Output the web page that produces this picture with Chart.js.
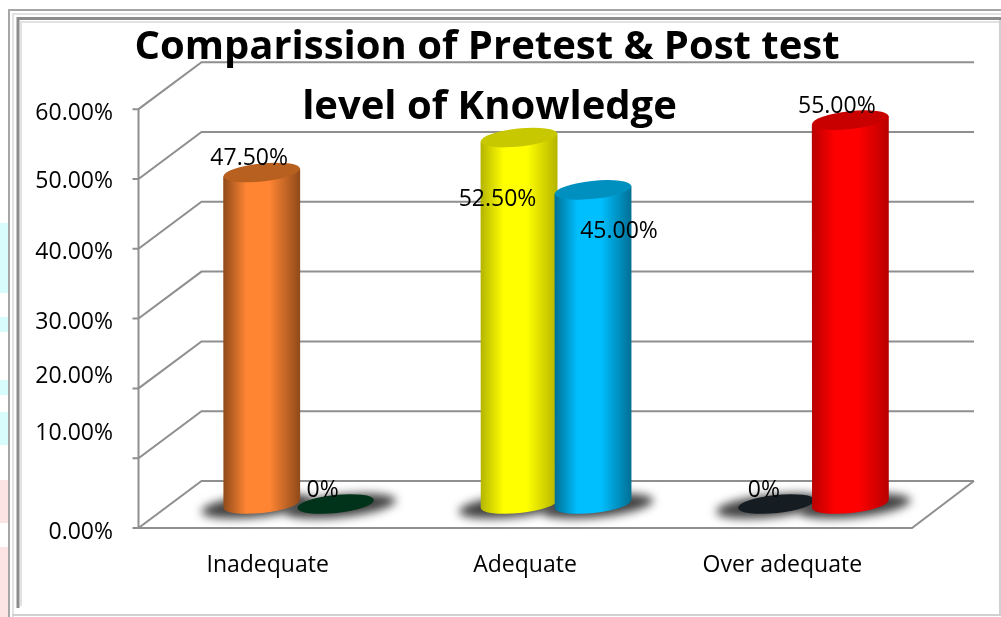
<!DOCTYPE html>
<html>
<head>
<meta charset="utf-8">
<title>Comparission of Pretest & Post test</title>
<script src="https://cdn.jsdelivr.net/npm/chart.js@4"></script>
<style>
html, body { margin: 0; padding: 0; background: #fff; overflow: hidden; }
canvas { display: block; }
</style>
</head>
<body>
<canvas id="chart" width="1001" height="617"></canvas>
<script>
const titleLines = ["Comparission of Pretest & Post test", "level of Knowledge"];
const categories = ["Inadequate", "Adequate", "Over adequate"];
const pretest = [47.5, 52.5, 0];
const posttest = [0, 45, 55];
const pretestLabels = ["47.50%", "52.50%", "0%"];
const posttestLabels = ["0%", "45.00%", "55.00%"];
const yTicks = [0, 10, 20, 30, 40, 50, 60];
const yTickLabels = ["0.00%", "10.00%", "20.00%", "30.00%", "40.00%", "50.00%", "60.00%"];

const pretestColors = ["#ff8533", "#ffff00", "#151d22"];
const posttestColors = ["#00331a", "#00bfff", "#ff0000"];
const pretestTops = ["#b8601f", "#c8c800", "#151d22"];
const posttestTops = ["#00331a", "#0090bf", "#c80000"];
const pretestEdges = ["#8f4a1a", "#b4b400", "#151d22"];
const posttestEdges = ["#00331a", "#006f94", "#b80000"];

// nudges for the labels, the picture has them placed by hand
const yLabelNudge = [4, -25, -12, 3.5, 4, 2.5, 4];
const pretestNudge = [[-12.5, -14.5], [-21.5, 61.5], [-12.5, -14]];
const posttestNudge = [[-13, -14], [26, 42], [-13.5, -14]];

const font = "'Open Sans'";
const gridColor = "#8f8f8f";
const tilt = -6 * Math.PI / 180;
const topRy = 9;

function drawFrame(ctx) {
    const bands = [
        ["#d8fbfb", 223, 70], ["#d8fbfb", 317, 15], ["#d8fbfb", 380, 15], ["#d8fbfb", 412, 33],
        ["#fde4e4", 480, 43], ["#fde4e4", 547, 70]
    ];
    for (let b of bands) {
        ctx.fillStyle = b[0];
        ctx.fillRect(0, b[1], 8, b[2]);
    }
    ctx.lineWidth = 2;
    ctx.strokeStyle = "#e2e2e2";
    ctx.beginPath();
    ctx.moveTo(13, 617);
    ctx.lineTo(13, 14);
    ctx.lineTo(1001, 14);
    ctx.moveTo(21, 606);
    ctx.lineTo(21, 22);
    ctx.lineTo(1001, 22);
    ctx.stroke();
    ctx.strokeStyle = "#a6a6a6";
    ctx.beginPath();
    ctx.moveTo(9, 617);
    ctx.lineTo(9, 10);
    ctx.lineTo(1001, 10);
    ctx.stroke();
    ctx.strokeStyle = "#d0d0d0";
    ctx.beginPath();
    ctx.moveTo(1000, 18);
    ctx.lineTo(1000, 615);
    ctx.lineTo(12, 615);
    ctx.stroke();
    ctx.strokeStyle = "#8c8c8c";
    ctx.lineWidth = 3;
    ctx.beginPath();
    ctx.moveTo(18, 608);
    ctx.lineTo(18, 18.5);
    ctx.lineTo(1001, 18.5);
    ctx.stroke();
}

function drawCylinder(ctx, el, color, edge, top) {
    const rx = el.width / 2;
    const left = el.x - rx;
    const right = el.x + rx;
    if (el.base - el.y > 1) {
        const dy = rx * Math.tan(-tilt);
        const grad = ctx.createLinearGradient(left, 0, right, 0);
        grad.addColorStop(0, edge);
        grad.addColorStop(0.3, color);
        grad.addColorStop(0.6, color);
        grad.addColorStop(1, edge);
        ctx.fillStyle = grad;
        ctx.beginPath();
        ctx.moveTo(left, el.y + dy);
        ctx.lineTo(right, el.y - dy);
        ctx.lineTo(right, el.base - dy);
        ctx.ellipse(el.x, el.base, rx, topRy, tilt, 0, Math.PI);
        ctx.closePath();
        ctx.fill();
    }
    ctx.fillStyle = top;
    ctx.beginPath();
    ctx.ellipse(el.x, el.y, rx, topRy, tilt, 0, Math.PI * 2);
    ctx.fill();
}

const box3d = {
    id: "box3d",
    beforeDraw(chart) {
        const ctx = chart.ctx;
        const area = chart.chartArea;
        const y = chart.scales.y;
        const yBack = chart.scales.yBack;
        const frontX = area.left - 31.5;
        const backX = area.left + 31.5;
        const backRight = area.right + 32;
        const frontRight = area.right - 30;
        ctx.save();
        ctx.fillStyle = "#fff";
        ctx.fillRect(0, 0, chart.width, chart.height);
        drawFrame(ctx);
        ctx.strokeStyle = gridColor;
        ctx.lineWidth = 2;
        ctx.beginPath();
        for (let t of yTicks) {
            const py = y.getPixelForValue(t);
            const pb = yBack.getPixelForValue(t);
            ctx.moveTo(frontX - 6, py);
            ctx.lineTo(frontX, py);
            ctx.lineTo(backX, pb);
            ctx.lineTo(backRight, pb);
        }
        ctx.moveTo(frontX, y.getPixelForValue(60));
        ctx.lineTo(frontX, y.getPixelForValue(0));
        ctx.lineTo(frontRight, y.getPixelForValue(0));
        ctx.lineTo(backRight, yBack.getPixelForValue(0));
        ctx.stroke();
        ctx.restore();
    },
    beforeDatasetsDraw(chart) {
        const ctx = chart.ctx;
        const pre = chart.getDatasetMeta(0).data;
        const post = chart.getDatasetMeta(1).data;
        // soft shadows on the floor
        ctx.save();
        ctx.filter = "blur(5px)";
        ctx.fillStyle = "#404040";
        for (let el of pre) {
            ctx.beginPath();
            ctx.ellipse(el.x - 5, el.base + 2, el.width / 2 + 17, 11, tilt, 0, Math.PI * 2);
            ctx.fill();
        }
        for (let el of post) {
            ctx.beginPath();
            ctx.ellipse(el.x + 5, el.base + 2, el.width / 2 + 17, 11, tilt, 0, Math.PI * 2);
            ctx.fill();
        }
        ctx.restore();
        // pretest first, post test sits on top of it
        ctx.save();
        pre.forEach((el, i) => drawCylinder(ctx, el, pretestColors[i], pretestEdges[i], pretestTops[i]));
        post.forEach((el, i) => drawCylinder(ctx, el, posttestColors[i], posttestEdges[i], posttestTops[i]));
        ctx.restore();
    },
    beforeDatasetDraw() {
        return false;
    },
    afterDraw(chart) {
        const ctx = chart.ctx;
        const y = chart.scales.y;
        const x = chart.scales.x;
        const area = chart.chartArea;
        ctx.save();
        ctx.fillStyle = "#000";
        ctx.textBaseline = "middle";

        ctx.font = "23px " + font;
        ctx.textAlign = "right";
        yTicks.forEach((t, i) => {
            ctx.fillText(yTickLabels[i], area.left - 57, y.getPixelForValue(t) + yLabelNudge[i]);
        });

        ctx.textAlign = "center";
        categories.forEach((c, i) => {
            ctx.fillText(c, x.getPixelForTick(i) - 31, 565);
        });

        chart.getDatasetMeta(0).data.forEach((el, i) => {
            ctx.fillText(pretestLabels[i], el.x + pretestNudge[i][0], el.y + pretestNudge[i][1]);
        });
        chart.getDatasetMeta(1).data.forEach((el, i) => {
            ctx.fillText(posttestLabels[i], el.x + posttestNudge[i][0], el.y + posttestNudge[i][1]);
        });

        ctx.font = "bold 40px " + font;
        ctx.fillText(titleLines[0], 487, 48);
        ctx.fillText(titleLines[1], 489.5, 108);
        ctx.restore();
    }
};

new Chart(document.getElementById("chart"), {
    type: "bar",
    data: {
        labels: categories,
        datasets: [
            {
                label: "Pretest",
                data: pretest,
                backgroundColor: pretestColors,
                yAxisID: "yBars"
            },
            {
                label: "Post test",
                data: posttest,
                backgroundColor: posttestColors,
                yAxisID: "yBars"
            }
        ]
    },
    options: {
        responsive: false,
        animation: false,
        events: [],
        categoryPercentage: 0.5748,
        barPercentage: 1.04,
        layout: { padding: { left: 170, right: 59, top: 61, bottom: 89 } },
        plugins: { legend: { display: false }, tooltip: { enabled: false } },
        scales: {
            x: { display: false },
            y: { display: false, min: 0, max: 66.9 },
            yBack: { display: false, min: -6.73, max: 60.17 },
            yBars: { display: false, min: -3.44, max: 63.47 }
        }
    },
    plugins: [box3d]
});
</script>
</body>
</html>
